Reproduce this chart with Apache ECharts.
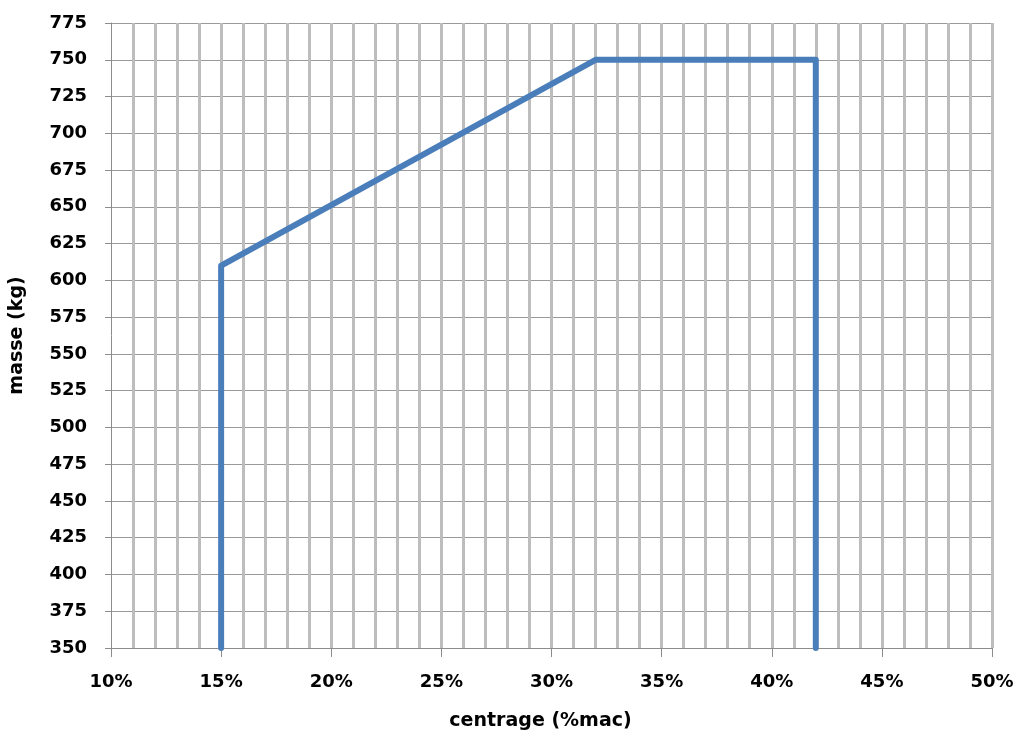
<!DOCTYPE html>
<html>
<head>
<meta charset="utf-8">
<script src="https://cdn.jsdelivr.net/npm/echarts@6/dist/echarts.min.js"></script>
<style>html,body{margin:0;padding:0;background:#fff;}#c{width:1016px;height:737px;}</style>
</head>
<body>
<div id="c"></div>
<script>
// Data
const centrage = [15, 15, 32, 42, 42];        // % mac
const masse    = [350, 610, 750, 750, 350];   // kg
const xTitle = 'centrage (%mac)';
const yTitle = 'masse (kg)';

const chart = echarts.init(document.getElementById('c'));
const font = 'DejaVu Sans';
chart.setOption({
  animation: false,
  backgroundColor: '#ffffff',
  grid: { left: 111, right: 24, top: 23, bottom: 89, containLabel: false, outerBoundsMode: 'none' },
  xAxis: {
    type: 'value', min: 10, max: 50, interval: 5,
    name: xTitle, nameLocation: 'middle', nameGap: 64,
    nameTextStyle: { fontFamily: font, fontWeight: 'bold', fontSize: 19, color: '#000', padding: [0, 22, 0, 0] },
    axisLine: { show: true, lineStyle: { color: '#8c8c8c', width: 1 } },
    axisTick: { show: true, length: 9, lineStyle: { color: '#8c8c8c' } },
    axisLabel: { margin: 25, fontFamily: font, fontWeight: 'bold', fontSize: 18, color: '#000',
      formatter: v => v + '%' },
    splitLine: { show: true, showMinLine: false, lineStyle: { color: '#bdbdbd', width: 3 } },
    minorTick: { show: false, splitNumber: 5 },
    minorSplitLine: { show: true, lineStyle: { color: '#bdbdbd', width: 3 } }
  },
  yAxis: {
    type: 'value', min: 350, max: 775, interval: 25,
    name: yTitle, nameLocation: 'middle', nameGap: 84, nameRotate: 90,
    nameTextStyle: { fontFamily: font, fontWeight: 'bold', fontSize: 19, color: '#000' },
    axisLine: { show: true, lineStyle: { color: '#8c8c8c', width: 1 } },
    axisTick: { show: true, length: 6, lineStyle: { color: '#8c8c8c' } },
    axisLabel: { margin: 24, fontFamily: font, fontWeight: 'bold', fontSize: 18, color: '#000' },
    splitLine: { show: true, lineStyle: { color: '#9a9a9a', width: 1 } }
  },
  series: [{
    type: 'line',
    data: centrage.map((x, i) => [x, masse[i]]),
    showSymbol: false,
    lineStyle: { color: '#4a7ebb', width: 6, cap: 'round', join: 'round' },
    z: 5
  }]
});
</script>
</body>
</html>
